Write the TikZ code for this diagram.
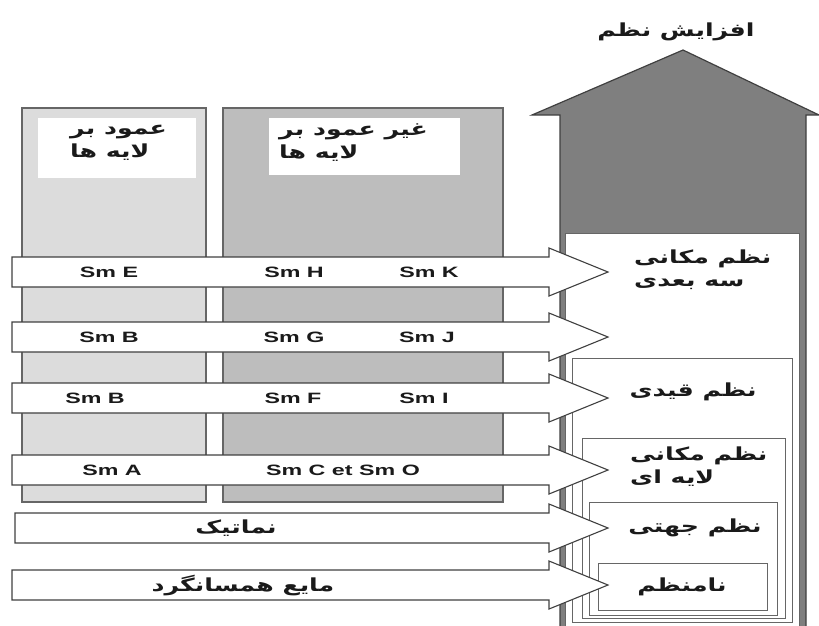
\documentclass[tikz,border=0pt]{standalone}
\usepackage{fontspec}
\TeXXeTstate=1
\newfontfamily\fa[Script=Arabic,FakeStretch=1.4]{DejaVu Sans}
\newfontfamily\lat[FakeStretch=1.55]{Liberation Sans}
\definecolor{colA}{HTML}{DCDCDC}
\definecolor{colB}{HTML}{BDBDBD}
\definecolor{edge}{HTML}{666666}
\definecolor{arrline}{HTML}{404040}
\definecolor{bigfill}{HTML}{7F7F7F}
\definecolor{ink}{HTML}{1A1A1A}
\tikzset{
  colbox/.style={draw=edge, line width=1.6pt},
  lblbox/.style={fill=white, draw=none},
  bigarrow/.style={draw=arrline, fill=bigfill, line width=1.2pt, line join=miter},
  orderbox/.style={draw=edge, fill=white, line width=1pt},
  blockarrow/.style={draw=arrline, fill=white, line width=1.1pt, line join=miter},
  smtext/.style={font=\lat\bfseries\fontsize{15}{17}\selectfont, text=ink, inner sep=0pt},
  fatext/.style={font=\fa\bfseries\fontsize{18}{23}\selectfont, text=ink, inner sep=0pt},
}
\newcommand\barrow[2]{\draw[blockarrow] (#1,#2-15) -- (549,#2-15) -- (549,#2-24) -- (608,#2) -- (549,#2+24) -- (549,#2+15) -- (#1,#2+15) -- cycle;}
\begin{document}
\begin{tikzpicture}[x=1pt,y=-1pt]
\useasboundingbox (0,0) rectangle (819,625);
% columns
\draw[colbox, fill=colA] (22,108) rectangle (206,502);
\draw[colbox, fill=colB] (223,108) rectangle (503,502);
\fill[lblbox] (38,118) rectangle (196,178);
\fill[lblbox] (269,118) rectangle (460,175);
\node[fatext, align=left, anchor=west] (lbl1) at (70,143) {\beginR عمود بر\endR\\\beginR لایه ها\endR};
\node[fatext, align=left, anchor=west] (lbl2) at (279,143) {\beginR غیر عمود بر\endR\\\beginR لایه ها\endR};
% big arrow
\draw[bigarrow] (560,627) -- (560,115) -- (532,115) -- (683,50) -- (819,115) -- (806,115) -- (806,627);
\node[fatext] (up) at (676,32) {\beginR افزایش نظم\endR};
% nested order boxes
\draw[orderbox] (565,233) rectangle (799,630);
\draw[orderbox] (572,358) rectangle (792,622);
\draw[orderbox] (582,438) rectangle (785,618);
\draw[orderbox] (589,502) rectangle (777,615);
\draw[orderbox] (598,563) rectangle (767,610);
\node[fatext, align=left, anchor=west] (o1) at (634,270) {\beginR نظم مکانی\endR\\\beginR سه بعدی\endR};
\node[fatext] (o2) at (693,392) {\beginR نظم قیدی\endR};
\node[fatext, align=left, anchor=west] (o3) at (630,467) {\beginR نظم مکانی\endR\\\beginR لایه ای\endR};
\node[fatext] (o4) at (695,528) {\beginR نظم جهتی\endR};
\node[fatext] (o5) at (682,587) {\beginR نامنظم\endR};
% block arrows
\barrow{12}{272}
\barrow{12}{337}
\barrow{12}{398}
\barrow{12}{470}
\barrow{15}{528}
\barrow{12}{585}
\node[smtext] (e) at (109,272) {Sm E};
\node[smtext] (h) at (294,272) {Sm H};
\node[smtext] (k) at (429,272) {Sm K};
\node[smtext] (b1) at (109,337) {Sm B};
\node[smtext] (g) at (294,337) {Sm G};
\node[smtext] (j) at (427,337) {Sm J};
\node[smtext] (b2) at (95,398) {Sm B};
\node[smtext] (f) at (293,398) {Sm F};
\node[smtext] (i) at (424,398) {Sm I};
\node[smtext] (a) at (112,470) {Sm A};
\node[smtext] (co) at (343,470) {Sm C et Sm O};
\node[fatext] (nem) at (236,528) {\beginR نماتیک\endR};
\node[fatext] (iso) at (243,585) {\beginR مایع همسانگرد\endR};
\end{tikzpicture}
\end{document}
